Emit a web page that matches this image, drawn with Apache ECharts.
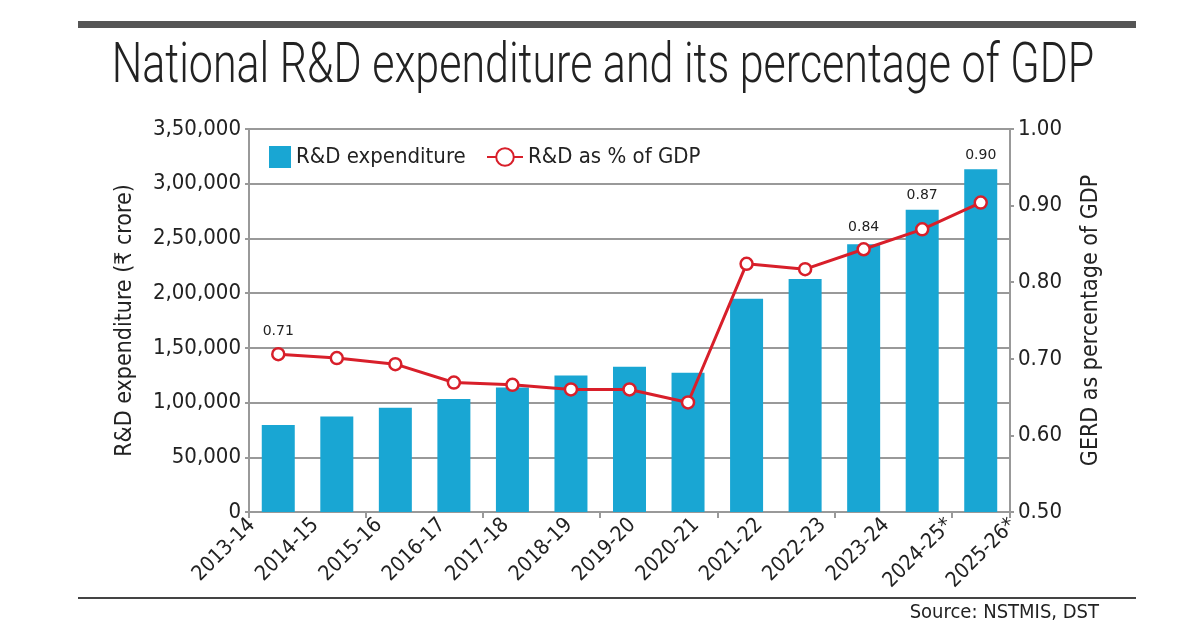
<!DOCTYPE html>
<html>
<head>
<meta charset="utf-8">
<script src="https://cdn.jsdelivr.net/npm/echarts@6/dist/echarts.min.js"></script>
<style>
  html, body { margin: 0; padding: 0; background: #fff; }
  #chart { width: 1200px; height: 630px; }
</style>
</head>
<body>
<div id="chart"></div>
<script>
// data
var years = ['2013-14', '2014-15', '2015-16', '2016-17', '2017-18', '2018-19', '2019-20',
             '2020-21', '2021-22', '2022-23', '2023-24', '2024-25*', '2025-26*'];
var expenditure = [79400, 87300, 95200, 103200, 113800, 124700, 132700,
                   127200, 194800, 213000, 244700, 276300, 313200];
var gdpShare = [0.706, 0.701, 0.693, 0.669, 0.666, 0.660, 0.660,
                0.643, 0.824, 0.817, 0.843, 0.869, 0.904];

// which points carry a value label, and how far above the marker it sits
var labelGap = { 0: 9, 10: 8, 11: 20, 12: 33 };

var condensed = '"DejaVu Sans Condensed", "DejaVu Sans", sans-serif';

// Indian digit grouping: 3,50,000
function indian(v) {
  var s = String(Math.round(v));
  if (s.length <= 3) return s;
  var last = s.slice(-3), rest = s.slice(0, -3);
  return rest.replace(/\B(?=(\d{2})+(?!\d))/g, ',') + ',' + last;
}

var myChart = echarts.init(document.getElementById('chart'));

var lineData = gdpShare.map(function (v, i) {
  if (labelGap[i] === undefined) return v;
  return { value: v, label: { show: true, distance: labelGap[i] } };
});

option = {
  backgroundColor: '#fff',
  animation: false,
  legend: [
    {
      data: [{ name: 'R&D expenditure', icon: 'rect' }],
      left: 264, top: 141,
      itemWidth: 22, itemHeight: 22,
      textStyle: { fontFamily: condensed, fontSize: 22, color: '#222' }
    },
    {
      data: ['R&D as % of GDP'],
      left: 481, top: 141,
      itemWidth: 36, itemHeight: 22,
      textStyle: { fontFamily: condensed, fontSize: 22, color: '#222' }
    }
  ],
  // grid 0 holds the chart, grid 1 only carries the year labels,
  // which in the original drift a little wider than the bars
  grid: [
    { left: 249, right: 190, top: 129, bottom: 118 },
    { left: 252, right: 187, top: 129, bottom: 118 }
  ],
  xAxis: [
    {
      type: 'category',
      data: years,
      axisLine: { lineStyle: { color: '#999', width: 2 } },
      axisTick: { show: true, length: 6, lineStyle: { color: '#999', width: 2 } },
      axisLabel: { show: false }
    },
    {
      type: 'category',
      gridIndex: 1,
      data: years,
      boundaryGap: false,
      axisLine: { show: false },
      axisTick: { show: false },
      axisLabel: {
        interval: 0,
        rotate: 45,
        margin: 10,
        fontFamily: condensed,
        fontSize: 21,
        color: '#222'
      }
    }
  ],
  yAxis: [
    {
      type: 'value',
      min: 0, max: 350000, interval: 50000,
      name: 'R&D expenditure (₹ crore)',
      nameLocation: 'middle',
      nameGap: 112,
      nameTextStyle: { fontFamily: condensed, fontSize: 23, color: '#222' },
      axisLine: { show: true, lineStyle: { color: '#999', width: 2 } },
      axisTick: { show: true, length: 4, lineStyle: { color: '#999', width: 2 } },
      axisLabel: {
        fontFamily: condensed, fontSize: 22, color: '#222', margin: 8,
        formatter: indian
      },
      splitLine: { lineStyle: { color: '#999', width: 2 } }
    },
    {
      type: 'value',
      min: 0.5, max: 1.0, interval: 0.1,
      name: 'GERD as percentage of GDP',
      nameLocation: 'middle',
      nameGap: 70,
      nameTextStyle: { fontFamily: condensed, fontSize: 23, color: '#222' },
      axisLine: { show: true, lineStyle: { color: '#999', width: 2 } },
      axisTick: { show: true, length: 4, lineStyle: { color: '#999', width: 2 } },
      axisLabel: {
        fontFamily: condensed, fontSize: 22, color: '#222', margin: 8,
        formatter: function (v) { return v.toFixed(2); }
      },
      splitLine: { show: false }
    },
    { type: 'value', gridIndex: 1, show: false }
  ],
  series: [
    {
      name: 'R&D expenditure',
      type: 'bar',
      data: expenditure,
      barWidth: 33,
      itemStyle: { color: '#19a6d3' }
    },
    {
      name: 'R&D as % of GDP',
      type: 'line',
      yAxisIndex: 1,
      data: lineData,
      symbol: 'circle',
      symbolSize: 12,
      lineStyle: { color: '#d81f2a', width: 3 },
      itemStyle: { color: '#fff', borderColor: '#d81f2a', borderWidth: 2.5 },
      label: {
        show: false,
        position: 'top',
        fontFamily: '"DejaVu Sans", sans-serif',
        fontSize: 14,
        color: '#222',
        formatter: function (p) { return p.value.toFixed(2); }
      },
      z: 5
    }
  ],
  graphic: [
    { type: 'rect', shape: { x: 78, y: 21, width: 1058, height: 7 }, style: { fill: '#555' } },
    { type: 'rect', shape: { x: 78, y: 597, width: 1058, height: 2 }, style: { fill: '#444' } },
    {
      // light, tall title (the original face is a condensed light sans)
      type: 'text', x: 603, y: 40, scaleY: 1.3,
      style: {
        text: 'National R&D expenditure and its percentage of GDP',
        font: '300 43px Roboto, sans-serif',
        fill: '#222',
        textAlign: 'center',
        textVerticalAlign: 'top'
      }
    },
    {
      type: 'text', right: 101, top: 603,
      style: { text: 'Source: NSTMIS, DST', font: '20px ' + condensed, fill: '#222' }
    }
  ]
};

myChart.setOption(option);
</script>
</body>
</html>
